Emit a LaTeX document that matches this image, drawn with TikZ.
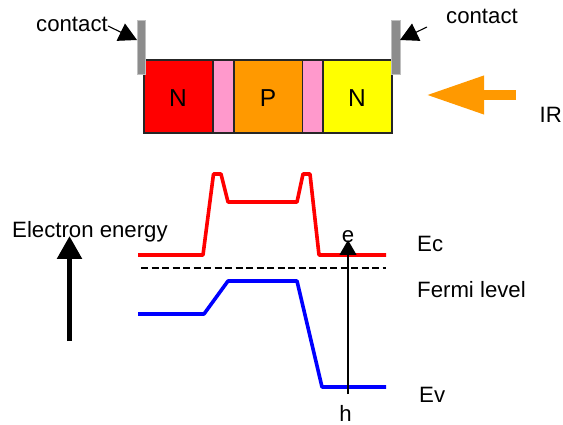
\documentclass[tikz,border=0pt]{standalone}
\usepackage{fontspec}
\setmainfont{Liberation Sans}
\usetikzlibrary{arrows.meta}
\tikzset{
  lbl/.style={anchor=base west,inner sep=0pt,font=\fontsize{22.2}{26}\selectfont},
  big/.style={anchor=base,inner sep=0pt,font=\fontsize{24.5}{28}\selectfont},
  region/.style={draw=black!85,line width=1.1pt,minimum height=73pt,inner sep=0pt,outer sep=0pt,anchor=north west},
  contactbar/.style={fill=black!45,draw=black!25,line width=0.6pt,minimum width=8pt,minimum height=54pt,inner sep=0pt,outer sep=0pt,anchor=north west},
  band/.style={line width=3.6pt,line join=round},
  pointer/.style={line width=1.1pt,-{Triangle[length=18pt,width=19pt]}},
}
\definecolor{cpink}{RGB}{255,153,204}
\definecolor{corange}{RGB}{255,153,0}
\definecolor{cblue}{RGB}{0,0,255}
\definecolor{cred}{RGB}{255,0,0}
\definecolor{cyellow}{RGB}{255,255,0}
\begin{document}
\begin{tikzpicture}[x=1pt,y=-1pt]
\useasboundingbox (0,0) rectangle (563,425);
% device
\node[region,fill=cred,minimum width=69pt] (n1) at (144,60) {};
\node[region,fill=cpink,minimum width=21pt] (i1) at (213,60) {};
\node[region,fill=corange,minimum width=68.5pt] (p) at (234,60) {};
\node[region,fill=cpink,minimum width=20.5pt] (i2) at (302.5,60) {};
\node[region,fill=cyellow,minimum width=69pt] (n2) at (323,60) {};
\node[big] (ln1) at (178,107) {N};
\node[big] (lp) at (268,107) {P};
\node[big] (ln2) at (357,107) {N};
\node[contactbar] (cl) at (137,20) {};
\node[contactbar,minimum width=9pt] (cr) at (391,20) {};
% contact labels
\node[lbl] (tcl) at (36,32) {contact};
\node[lbl] (tcr) at (446,24) {contact};
\coordinate (cls) at (108,26);
\coordinate (cle) at (137,40);
\coordinate (crs) at (427,27);
\coordinate (cre) at (400,40);
\draw[pointer] (cls) -- (cle);
\draw[pointer] (crs) -- (cre);
% IR arrow
\coordinate (irs) at (516,95);
\coordinate (ire) at (426,95);
\draw[corange,line width=10pt,-{Triangle[length=58pt,width=36pt]}] (irs) -- (ire);
\node[lbl] (tir) at (539.5,123) {IR};
% energy axis
\node[lbl] (tee) at (12,237) {Electron energy};
\coordinate (eas) at (69.5,341);
\coordinate (eae) at (69.5,236);
\draw[line width=5.5pt,-{Triangle[length=23pt,width=24pt]}] (eas) -- (eae);
% bands
\draw[band,cred] (138,255) -- (203,255) -- (213.5,174) -- (221,174) -- (228,202) -- (297,202) -- (303,174) -- (310,174) -- (319,255) -- (386,255);
\draw[band,cblue] (138,314) -- (204,314) -- (228,281) -- (297,281) -- (322,387) -- (386,387);
\draw[black,line width=1.1pt,dash pattern=on 7pt off 3.5pt] (141,268) -- (386,268);
% labels
\node[lbl] (tec) at (417,252) {Ec};
\node[lbl] (tf) at (417,298) {Fermi level};
\node[lbl] (tev) at (419,402) {Ev};
\node[lbl,anchor=base] (te) at (348,243) {e};
\node[lbl,anchor=base] (th) at (345.5,421.5) {h};
\coordinate (hs) at (348,394);
\coordinate (he) at (348,240);
\draw[line width=1.1pt,-{Triangle[length=15pt,width=17pt]}] (hs) -- (he);
\end{tikzpicture}
\end{document}
